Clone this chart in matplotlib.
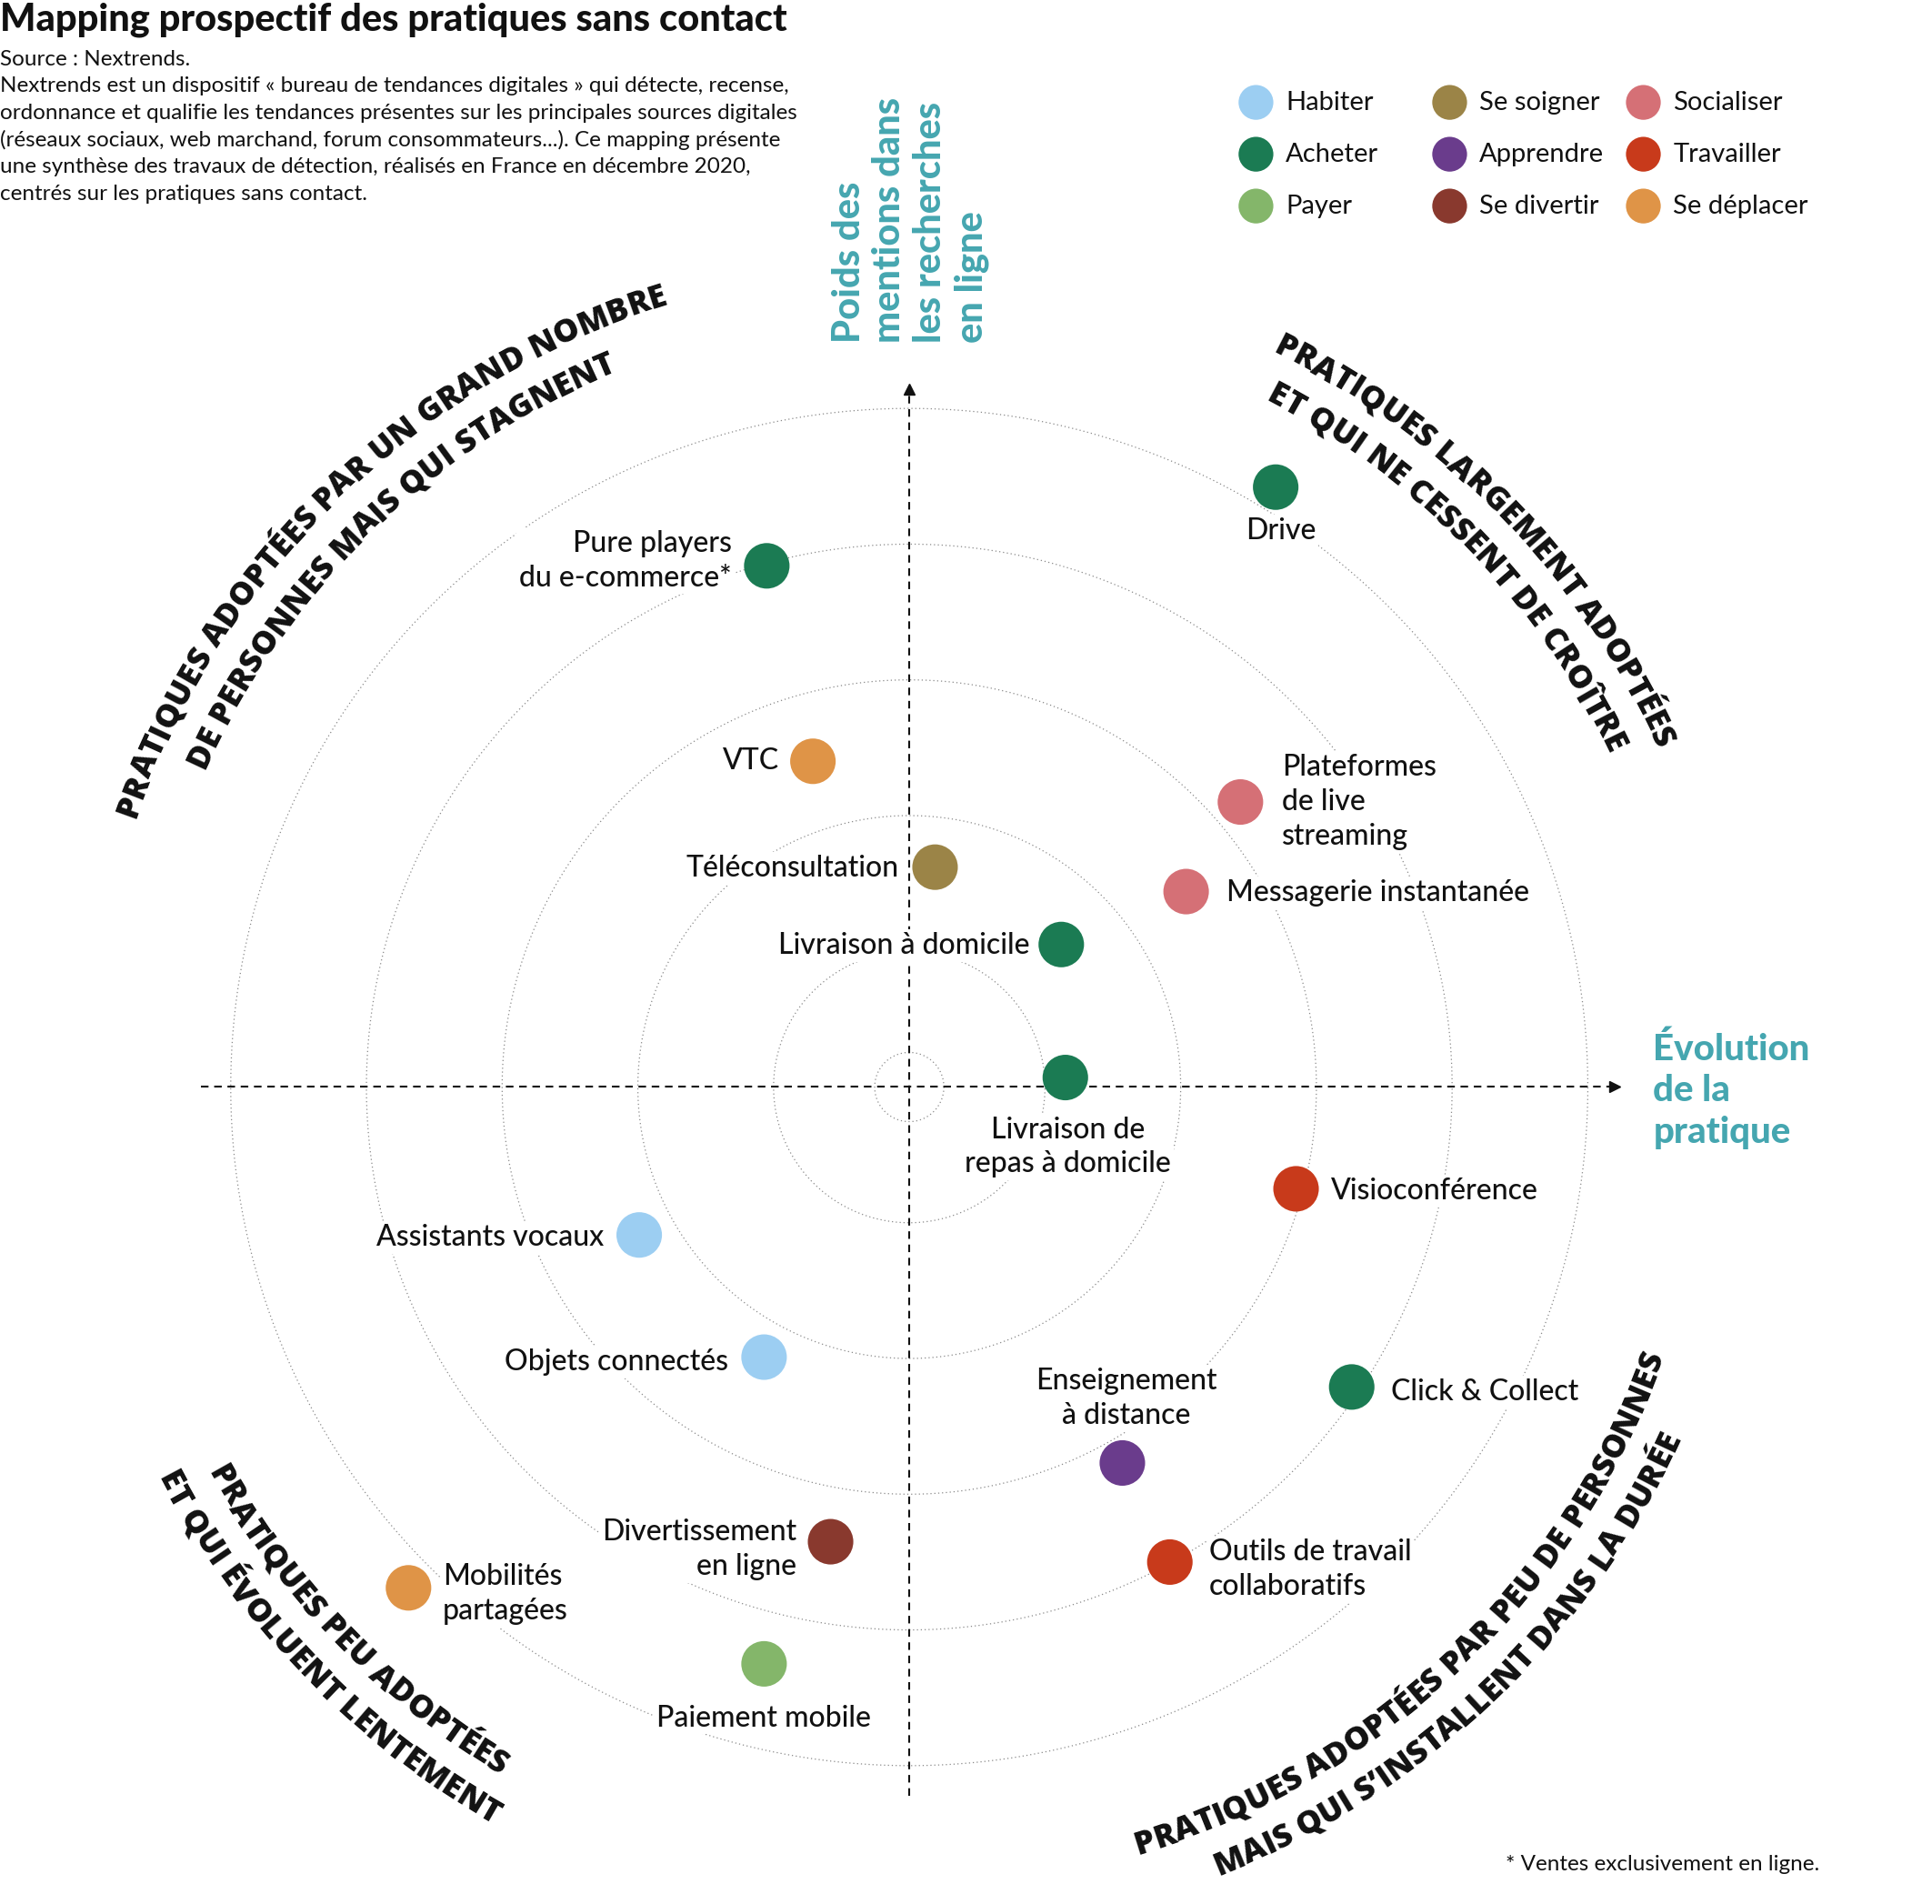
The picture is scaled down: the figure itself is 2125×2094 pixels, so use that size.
import numpy as np
import matplotlib.pyplot as plt
from matplotlib.font_manager import FontProperties, findfont
from matplotlib.ft2font import FT2Font

# ---- data (x = évolution de la pratique, y = poids des mentions, in ring units) ----
names = ["Drive", "Pure players\ndu e-commerce*", "VTC", "Téléconsultation",
         "Livraison à domicile", "Livraison de\nrepas à domicile",
         "Plateformes\nde live\nstreaming", "Messagerie instantanée",
         "Visioconférence", "Assistants vocaux", "Objets connectés",
         "Enseignement\nà distance", "Click & Collect", "Divertissement\nen ligne",
         "Outils de travail\ncollaboratifs", "Mobilités\npartagées", "Paiement mobile"]
evolution = [2.70, -1.05, -0.71, 0.19, 1.12, 1.15, 2.44, 2.04, 2.85,
             -1.99, -1.07, 1.57, 3.26, -0.58, 1.92, -3.69, -1.07]
poids = [4.42, 3.84, 2.40, 1.62, 1.05, 0.07, 2.10, 1.44, -0.75,
         -1.09, -1.99, -2.77, -2.21, -3.35, -3.50, -3.69, -4.25]
themes = ["Acheter", "Acheter", "Se déplacer", "Se soigner", "Acheter", "Acheter",
          "Socialiser", "Socialiser", "Travailler", "Habiter", "Habiter",
          "Apprendre", "Acheter", "Se divertir", "Travailler", "Se déplacer", "Payer"]

theme_names = ["Habiter", "Acheter", "Payer", "Se soigner", "Apprendre", "Se divertir",
               "Socialiser", "Travailler", "Se déplacer"]
theme_colors = ["#9ccef2", "#1b7b53", "#84b66a", "#9b8447", "#6a3c8c", "#89392e",
                "#d57076", "#c83a1b", "#df9447"]
color_of = dict(zip(theme_names, theme_colors))

quadrants = [
    (["PRATIQUES ADOPTÉES PAR UN GRAND NOMBRE", "DE PERSONNES MAIS QUI STAGNENT"], 134, True),
    (["PRATIQUES LARGEMENT ADOPTÉES", "ET QUI NE CESSENT DE CROÎTRE"], 44, True),
    (["PRATIQUES ADOPTÉES PAR PEU DE PERSONNES", "MAIS QUI S’INSTALLENT DANS LA DURÉE"], 313.5, False),
    (["PRATIQUES PEU ADOPTÉES", "ET QUI ÉVOLUENT LENTEMENT"], 224, False),
]

# label placement: (ha, dx, dy) in points from the dot
label_pos = {
    "Drive": ("center", 4, -35),
    "Pure players\ndu e-commerce*": ("right", -28, 4),
    "VTC": ("right", -27, 0),
    "Téléconsultation": ("right", -29, -1),
    "Livraison à domicile": ("right", -25, -1),
    "Livraison de\nrepas à domicile": ("center", 2, -55),
    "Plateformes\nde live\nstreaming": ("left", 33, 0),
    "Messagerie instantanée": ("left", 32, -1),
    "Visioconférence": ("left", 28, -2),
    "Assistants vocaux": ("right", -28, -2),
    "Objets connectés": ("right", -28, -4),
    "Enseignement\nà distance": ("center", 3, 51),
    "Click & Collect": ("left", 31, -4),
    "Divertissement\nen ligne": ("right", -27, -6),
    "Outils de travail\ncollaboratifs": ("left", 31, -6),
    "Mobilités\npartagées": ("left", 27, -5),
    "Paiement mobile": ("center", 0, -43),
}

W, H, DPI = 2125, 2094, 100
XMIN, XMAX = -6.70, 7.536
YMAX = 8.009
YMIN = YMAX - (XMAX - XMIN) * H / W
PPU = W / (XMAX - XMIN)

TEAL = "#45a6b0"
INK = "#111111"
FONT = "Lato"
QUAD_FONT = "Open Sans"


def ref(x, y):
    # reference layout pixels -> chart units
    return (x - 737) / 110, (881 - y) / 110


fig = plt.figure(figsize=(W / DPI, H / DPI), dpi=DPI)
ax = fig.add_axes([0, 0, 1, 1])
ax.set_xlim(XMIN, XMAX)
ax.set_ylim(YMIN, YMAX)
ax.axis("off")

# rings
t = np.linspace(0, 2 * np.pi, 900)
for r in [0.255, 1, 2, 3, 4, 5]:
    ax.plot(r * np.cos(t), r * np.sin(t), color="#8a8a8a", lw=0.9,
            ls=(0, (1, 2.4)), zorder=1)

# dashed axes with arrows
L = 5.22
ax.plot([-L, L - 0.05], [0, 0], color=INK, lw=1.5, ls=(0, (4, 3)), zorder=2)
ax.plot([0, 0], [-L, L - 0.1], color=INK, lw=1.5, ls=(0, (4, 3)), zorder=2)
ax.plot(L - 0.02, 0, marker=">", ms=9, color=INK, zorder=2)
ax.plot(0, L - 0.08, marker="^", ms=9, color=INK, zorder=2)

# dots + labels
ax.scatter(evolution, poids, s=1300, c=[color_of[t_] for t_ in themes],
           edgecolors="none", zorder=4)
for name, x, y in zip(names, evolution, poids):
    ha, dx, dy = label_pos[name]
    ax.annotate(name, (x, y), xytext=(dx, dy), textcoords="offset points",
                ha=ha, va="center", multialignment=ha, fontsize=23,
                family=FONT, fontweight="medium", color=INK, linespacing=1.32,
                bbox=dict(fc="white", ec="none", pad=2), zorder=3)


# curved quadrant titles
def arc_text(s, r, theta_c, clockwise, size):
    prop = FontProperties(family=QUAD_FONT, weight="extra bold", size=size)
    font = FT2Font(findfont(prop))
    font.set_size(size, DPI)
    adv = [font.load_char(ord(ch)).linearHoriAdvance / 65536 / PPU for ch in s]
    pos = -sum(adv) / 2
    sign = -1 if clockwise else 1
    for ch, a in zip(s, adv):
        mid = pos + a / 2
        pos += a
        if ch == " ":
            continue
        ang = np.radians(theta_c) + sign * mid / r
        rot = np.degrees(ang) - 90 if clockwise else np.degrees(ang) + 90
        ax.text(r * np.cos(ang), r * np.sin(ang), ch, fontproperties=prop,
                rotation=rot, rotation_mode="anchor", ha="center",
                va="baseline", color=INK)


for lines, theta, cw in quadrants:
    if cw:
        radii = [6.04, 5.70]
    else:
        radii = [5.90, 6.24]
    for line, r in zip(lines, radii):
        arc_text(line, r, theta, cw, 25.5)

# axis titles
ax.text(*ref(674, 278), "Poids des\nmentions dans\nles recherches\nen ligne",
        rotation=90, ha="left", va="bottom", multialignment="left",
        fontsize=30, family=FONT, fontweight="black", color=TEAL, linespacing=1.22)
ax.text(*ref(1340, 884), "Évolution\nde la\npratique", ha="left", va="center",
        fontsize=29, family=FONT, fontweight="black", color=TEAL, linespacing=1.28)

# legend
for i, (name, col) in enumerate(zip(theme_names, theme_colors)):
    cx, cy = ref(1018 + 157 * (i // 3), 83 + 42 * (i % 3))
    ax.scatter([cx], [cy], s=760, color=col, edgecolors="none", zorder=4)
    ax.text(cx + 0.22, cy, name, ha="left", va="center", fontsize=21,
            family=FONT, fontweight="normal", color=INK)

# header
ax.text(*ref(0, 16), "Mapping prospectif des pratiques sans contact", ha="left",
        va="center", fontsize=30, family=FONT, fontweight="black", color=INK)
header = ["Source : Nextrends.",
          "Nextrends est un dispositif « bureau de tendances digitales » qui détecte, recense,",
          "ordonnance et qualifie les tendances présentes sur les principales sources digitales",
          "(réseaux sociaux, web marchand, forum consommateurs...). Ce mapping présente",
          "une synthèse des travaux de détection, réalisés en France en décembre 2020,",
          "centrés sur les pratiques sans contact."]
for k, line in enumerate(header):
    ax.text(*ref(0, 48 + 21.8 * k), line, ha="left", va="center", fontsize=17.5,
            family=FONT, fontweight="normal", color=INK)

ax.text(*ref(1475, 1511), "* Ventes exclusivement en ligne.", ha="right",
        va="center", fontsize=17.5, family=FONT, fontweight="normal", color=INK)

fig.savefig("out.png", dpi=DPI, facecolor="white")
